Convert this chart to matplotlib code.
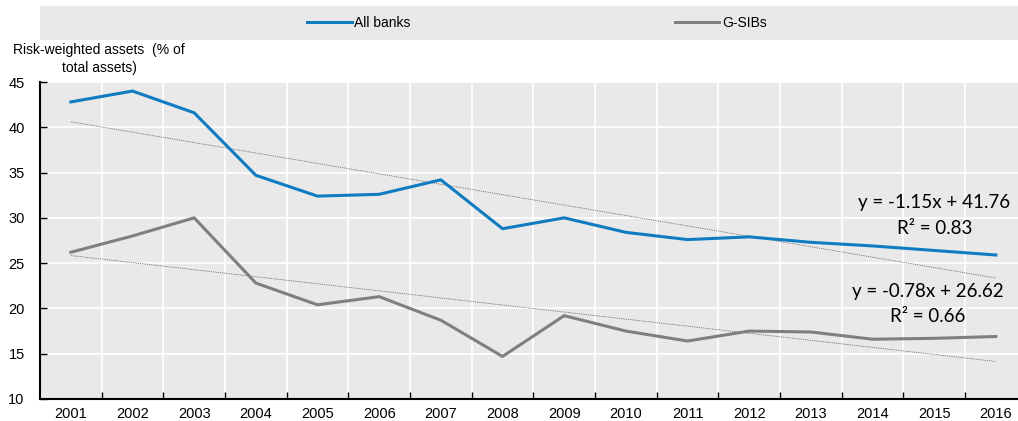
import matplotlib
matplotlib.use("Agg")
import matplotlib.pyplot as plt
from matplotlib.lines import Line2D
import numpy as np

years = ["2001", "2002", "2003", "2004", "2005", "2006", "2007", "2008",
         "2009", "2010", "2011", "2012", "2013", "2014", "2015", "2016"]
all_banks = [42.8, 44.0, 41.6, 34.7, 32.4, 32.6, 34.2, 28.8,
             30.0, 28.4, 27.6, 27.9, 27.3, 26.9, 26.4, 25.9]
gsibs = [26.2, 28.0, 30.0, 22.8, 20.4, 21.3, 18.7, 14.7,
         19.2, 17.5, 16.4, 17.5, 17.4, 16.6, 16.7, 16.9]
trend_all = (-1.15, 41.76, 0.83)
trend_gsib = (-0.78, 26.62, 0.66)

BLUE = "#0f7cc2"
GREY = "#7f7f7f"
BG = "#e9e9e9"
SANS = ["Liberation Sans", "DejaVu Sans"]

W, H = 1018, 421
fig = plt.figure(figsize=(W / 100, H / 100), dpi=100)

def fx(px): return px / W
def fy(py): return 1 - py / H

ax = fig.add_axes([fx(40), fy(399), fx(1018) - fx(40), fy(82) - fy(399)])
ax.set_facecolor(BG)

x = np.arange(1, len(years) + 1)
ax.plot(x, all_banks, color=BLUE, lw=2.2, zorder=4, solid_joinstyle="round")
ax.plot(x, gsibs, color=GREY, lw=2.2, zorder=4, solid_joinstyle="round")

for (m, b, r2) in (trend_all, trend_gsib):
    ax.plot(x, m * x + b, color="#555555", lw=0.6, ls=(0, (1, 1.2)), zorder=3)

eq_font = ["Lato", "DejaVu Sans"]
ax.text(0.992, 0.621, "y = -1.15x + 41.76", transform=ax.transAxes, ha="right",
        va="center", fontsize=13.5, family=eq_font)
ax.text(0.953, 0.539, "R² = 0.83", transform=ax.transAxes, ha="right",
        va="center", fontsize=13.5, family=eq_font)
ax.text(0.985, 0.338, "y = -0.78x + 26.62", transform=ax.transAxes, ha="right",
        va="center", fontsize=13.5, family=eq_font)
ax.text(0.946, 0.259, "R² = 0.66", transform=ax.transAxes, ha="right",
        va="center", fontsize=13.5, family=eq_font)

span = 978 / 61.67
ax.set_xlim(0.5, 0.5 + span)
ax.set_ylim(10, 45)
ax.set_yticks(np.arange(10, 46, 5))
ax.set_xticks(x)
ax.set_xticklabels(years)
ax.set_xticks(np.arange(1.5, 16.5, 1), minor=True)
ax.grid(True, which="minor", axis="x", color="white", lw=1.2)
ax.grid(True, which="major", axis="y", color="white", lw=1.2)
ax.set_axisbelow(True)
ax.tick_params(axis="x", which="major", length=0, pad=6, labelsize=10.5)
ax.tick_params(axis="x", which="minor", length=5, direction="in", color="black", width=1)
ax.tick_params(axis="y", length=5, direction="in", width=1, pad=11, labelsize=10.5)
for lab in ax.get_xticklabels() + ax.get_yticklabels():
    lab.set_family(SANS)
for s in ("top", "right"):
    ax.spines[s].set_visible(False)
for s in ("left", "bottom"):
    ax.spines[s].set_linewidth(1.5)
    ax.spines[s].set_color("black")

# legend band
lax = fig.add_axes([fx(40), fy(40), fx(1018) - fx(40), fy(6) - fy(40)])
lax.set_facecolor(BG)
lax.set_xticks([]); lax.set_yticks([])
for s in lax.spines.values():
    s.set_visible(False)
handles = [Line2D([0], [0], color=BLUE, lw=2.2), Line2D([0], [0], color=GREY, lw=2.2)]
leg = fig.legend(handles, ["All banks", "G-SIBs"], loc="center",
                 bbox_to_anchor=(fx(537), fy(23)), ncol=2, frameon=False,
                 handlelength=3.2, handletextpad=0.2, columnspacing=19,
                 prop={"family": SANS, "size": 10})

fig.text(fx(13), fy(50), "Risk-weighted assets  (% of", fontsize=10,
         family=SANS, ha="left", va="center")
fig.text(fx(62), fy(68), "total assets)", fontsize=10,
         family=SANS, ha="left", va="center")

fig.savefig("out.png", dpi=100, facecolor="white")
